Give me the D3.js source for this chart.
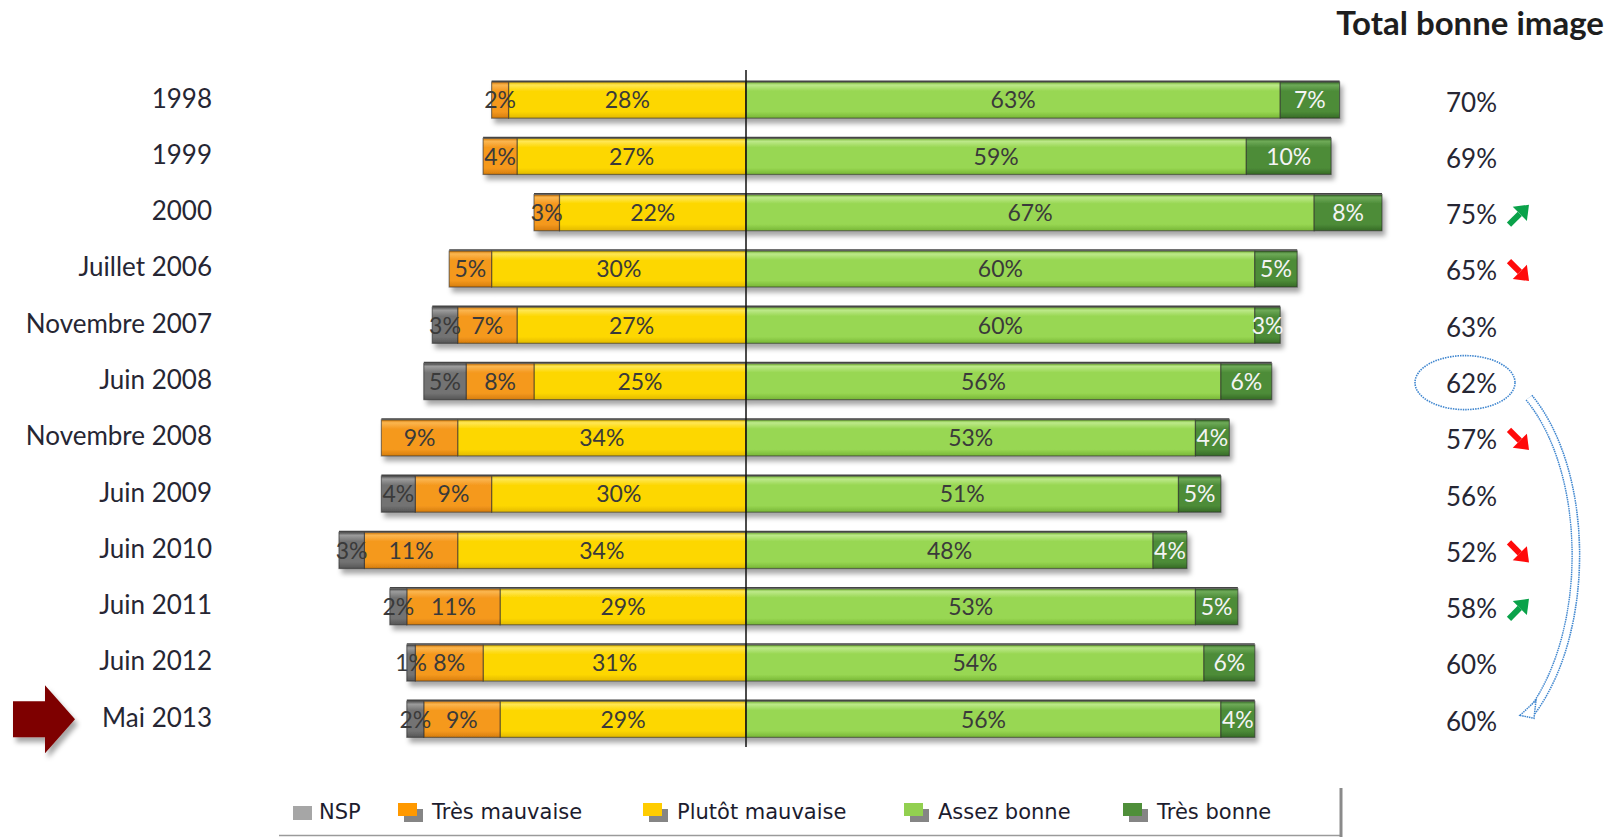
<!DOCTYPE html>
<html>
<head>
<meta charset="utf-8">
<script src="https://cdn.jsdelivr.net/npm/d3@7"></script>
<style>
  body { margin: 0; background: #fff; }
  svg { display: block; }
</style>
</head>
<body>
<div id="chart"></div>
<script>
// data
const rows = ["1998", "1999", "2000", "Juillet 2006", "Novembre 2007", "Juin 2008",
              "Novembre 2008", "Juin 2009", "Juin 2010", "Juin 2011", "Juin 2012", "Mai 2013"];
const nsp            = [0, 0, 0, 0, 3, 5, 0, 4, 3, 2, 1, 2];
const tresMauvaise   = [2, 4, 3, 5, 7, 8, 9, 9, 11, 11, 8, 9];
const plutotMauvaise = [28, 27, 22, 30, 27, 25, 34, 30, 34, 29, 31, 29];
const assezBonne     = [63, 59, 67, 60, 60, 56, 53, 51, 48, 53, 54, 56];
const tresBonne      = [7, 10, 8, 5, 3, 6, 4, 5, 4, 5, 6, 4];
const totalBonne     = [70, 69, 75, 65, 63, 62, 57, 56, 52, 58, 60, 60];
const trend          = ["", "", "up", "down", "", "", "down", "", "down", "up", "", ""];
const seriesNames    = ["NSP", "Très mauvaise", "Plutôt mauvaise", "Assez bonne", "Très bonne"];

var width = 1622
var height = 837;

let svg = d3.select("#chart")
    .append("svg")
    .attr("width", width)
    .attr("height", height)

const fontMain = "Lato, 'Open Sans', sans-serif";

// colours: base, light top, dark bottom
const pal = {
    "NSP":             ["#737373", "#9c9c9c", "#555555"],
    "Très mauvaise":   ["#f5991f", "#fbb650", "#d67d0c"],
    "Plutôt mauvaise": ["#fdd700", "#ffe755", "#e2b900"],
    "Assez bonne":     ["#98d752", "#bde98a", "#77b636"],
    "Très bonne":      ["#4d8c38", "#6eaa58", "#366b26"]
};
const legendColor = {
    "NSP": "#a6a6a6", "Très mauvaise": "#ff9900", "Plutôt mauvaise": "#ffcc00",
    "Assez bonne": "#92d050", "Très bonne": "#4f8f3a"
};

const defs = svg.append("defs");
seriesNames.forEach((s, i) => {
    const g = defs.append("linearGradient")
        .attr("id", "grad" + i)
        .attr("x1", 0).attr("y1", 0).attr("x2", 0).attr("y2", 1);
    g.append("stop").attr("offset", "0%").attr("stop-color", pal[s][2]);
    g.append("stop").attr("offset", "8%").attr("stop-color", pal[s][1]);
    g.append("stop").attr("offset", "25%").attr("stop-color", pal[s][0]);
    g.append("stop").attr("offset", "82%").attr("stop-color", pal[s][0]);
    g.append("stop").attr("offset", "100%").attr("stop-color", pal[s][2]);
});
const f = defs.append("filter").attr("id", "shadow")
    .attr("x", "-5%").attr("y", "-30%").attr("width", "115%").attr("height", "170%");
f.append("feDropShadow").attr("dx", 3).attr("dy", 5).attr("stdDeviation", 2.5)
    .attr("flood-color", "#000").attr("flood-opacity", 0.35);

// scales
const x = d3.scaleLinear()
    .domain([-50, 100])
    .range([322, 1594]);

const y = d3.scaleBand()
    .domain(rows)
    .range([72, 747.5])
    .paddingInner(0.36)
    .paddingOuter(0.18);

// build segments
const segs = [];
rows.forEach((r, i) => {
    let left = 0;
    [[2, plutotMauvaise], [1, tresMauvaise], [0, nsp]].forEach(([si, arr]) => {
        const v = arr[i];
        segs.push({row: r, s: si, v: v, x0: -(left + v), x1: -left});
        left += v;
    });
    let right = 0;
    [[3, assezBonne], [4, tresBonne]].forEach(([si, arr]) => {
        const v = arr[i];
        segs.push({row: r, s: si, v: v, x0: right, x1: right + v});
        right += v;
    });
});

const barGroups = svg.selectAll("g.row")
    .data(rows)
    .join("g")
    .attr("class", "row")
    .attr("filter", "url(#shadow)");

barGroups.selectAll("rect")
    .data(r => segs.filter(d => d.row === r && d.v > 0))
    .join("rect")
    .attr("x", d => x(d.x0))
    .attr("y", d => y(d.row))
    .attr("width", d => x(d.x1) - x(d.x0))
    .attr("height", y.bandwidth())
    .attr("fill", d => "url(#grad" + d.s + ")")
    .attr("stroke", "rgba(40,40,40,0.55)")
    .attr("stroke-width", 1.2);

// dark top edge of each bar
barGroups.append("line")
    .attr("x1", r => x(-segs.filter(d => d.row === r && d.x1 <= 0).reduce((a, d) => a + d.v, 0)))
    .attr("x2", r => x(segs.filter(d => d.row === r && d.x0 >= 0).reduce((a, d) => a + d.v, 0)))
    .attr("y1", r => y(r) - 1).attr("y2", r => y(r) - 1)
    .attr("stroke", "#444").attr("stroke-width", 1.5);

// segment labels
svg.selectAll("text.seg")
    .data(segs.filter(d => d.v > 0))
    .join("text")
    .attr("class", "seg")
    .attr("x", d => (x(d.x0) + x(d.x1)) / 2)
    .attr("y", d => y(d.row) + y.bandwidth() / 2)
    .attr("dy", "0.36em")
    .attr("text-anchor", "middle")
    .style("font-family", fontMain)
    .style("font-size", "23px")
    .style("fill", d => d.s === 4 ? "#f4f4f4" : "#3a3a3a")
    .text(d => d.v + "%");

// center axis line
svg.append("line")
    .attr("x1", x(0)).attr("x2", x(0))
    .attr("y1", 70).attr("y2", 747)
    .attr("stroke", "#111")
    .attr("stroke-width", 1.5);

// row labels
svg.selectAll("text.cat")
    .data(rows)
    .join("text")
    .attr("class", "cat")
    .attr("x", 212)
    .attr("y", d => y(d) + y.bandwidth() / 2 - 2)
    .attr("dy", "0.36em")
    .attr("text-anchor", "end")
    .style("font-family", fontMain)
    .style("font-size", "26px")
    .style("fill", "#262633")
    .text(d => d);

// total column
svg.append("text")
    .attr("x", 1604).attr("y", 35)
    .attr("text-anchor", "end")
    .style("font-family", fontMain)
    .style("font-size", "33px")
    .style("font-weight", "bold")
    .style("fill", "#1e1e1e")
    .text("Total bonne image");

svg.selectAll("text.tot")
    .data(rows)
    .join("text")
    .attr("class", "tot")
    .attr("x", 1446)
    .attr("y", (d, i) => y(d) + y.bandwidth() / 2 + 2)
    .attr("dy", "0.36em")
    .style("font-family", fontMain)
    .style("font-size", "26px")
    .style("fill", "#262633")
    .text((d, i) => totalBonne[i] + "%");

// trend arrows
rows.forEach((r, i) => {
    if (!trend[i]) return;
    const c = y(r) + y.bandwidth() / 2 + 2;
    const x0 = 1509, s = 20;
    const up = trend[i] === "up";
    const col = up ? "#0aa24a" : "#ff0a0a";
    const y0 = up ? c + 10 : c - 10;
    const y1 = up ? c - 10 : c + 10;
    const ang = Math.atan2(y1 - y0, s);
    const hx = x0 + s, hy = y1;
    const bx = hx - 13 * Math.cos(ang), by = hy - 13 * Math.sin(ang);
    svg.append("line")
        .attr("x1", x0).attr("y1", y0).attr("x2", bx).attr("y2", by)
        .attr("stroke", col).attr("stroke-width", 6);
    const px = -Math.sin(ang) * 10, py = Math.cos(ang) * 10;
    svg.append("path")
        .attr("d", `M${hx},${hy} L${bx + px},${by + py} L${bx - px},${by - py} Z`)
        .attr("fill", col);
});

// dotted ellipse around Juin 2008 total
const c08 = y("Juin 2008") + y.bandwidth() / 2;
svg.append("ellipse")
    .attr("cx", 1465).attr("cy", c08 + 1)
    .attr("rx", 50).attr("ry", 27)
    .attr("fill", "none")
    .attr("stroke", "#3f86cf")
    .attr("stroke-width", 1.6)
    .attr("stroke-dasharray", "1.5,1");

// hollow curved arrow Juin 2008 -> Mai 2013
const c13 = y("Mai 2013") + y.bandwidth() / 2;
const curve = `M1529,${c08 + 16} C1590,${c08 + 90} 1592,${c13 - 90} 1532,${c13 - 8}`;
svg.append("path").attr("d", curve)
    .attr("fill", "none").attr("stroke", "#3f86cf")
    .attr("stroke-width", 9).attr("stroke-dasharray", "1.5,0.8");
svg.append("path").attr("d", curve)
    .attr("fill", "none").attr("stroke", "#fff").attr("stroke-width", 6);
svg.append("path")
    .attr("d", `M1520,${c13 - 4} L1536,${c13 - 19} L1534,${c13 - 1} Z`)
    .attr("fill", "#fff").attr("stroke", "#3f86cf").attr("stroke-width", 1.5)
    .attr("stroke-dasharray", "1.5,0.8");

// red marker arrow on Mai 2013
svg.append("path")
    .attr("d", `M13,${c13 - 18} L45,${c13 - 18} L45,${c13 - 34} L75,${c13} L45,${c13 + 34} L45,${c13 + 18} L13,${c13 + 18} Z`)
    .attr("fill", "#7e0000")
    .attr("filter", "url(#shadow)");

// legend
const legendX = [293, 398, 643, 904, 1123];
const legend = svg.append("g").attr("class", "legend");
seriesNames.forEach((s, i) => {
    const lx = legendX[i];
    if (i === 0) {
        legend.append("rect").attr("x", lx).attr("y", 806).attr("width", 19).attr("height", 14)
            .attr("fill", legendColor[s]);
    } else {
        legend.append("rect").attr("x", lx + 6).attr("y", 809).attr("width", 19).attr("height", 13)
            .attr("fill", "#858585");
        legend.append("rect").attr("x", lx).attr("y", 803).attr("width", 19).attr("height", 13)
            .attr("fill", legendColor[s]);
    }
    legend.append("text")
        .attr("x", i === 0 ? lx + 26 : lx + 34)
        .attr("y", 819)
        .style("font-family", "'DejaVu Sans', sans-serif")
        .style("font-size", "21px")
        .style("fill", "#1c1c2e")
        .text(s);
});
legend.append("line")
    .attr("x1", 279).attr("x2", 1342).attr("y1", 835.5).attr("y2", 835.5)
    .attr("stroke", "#9a9a9a").attr("stroke-width", 1.5);
legend.append("line")
    .attr("x1", 1341).attr("x2", 1341).attr("y1", 788).attr("y2", 837)
    .attr("stroke", "#8a8a8a").attr("stroke-width", 3);
</script>
</body>
</html>
